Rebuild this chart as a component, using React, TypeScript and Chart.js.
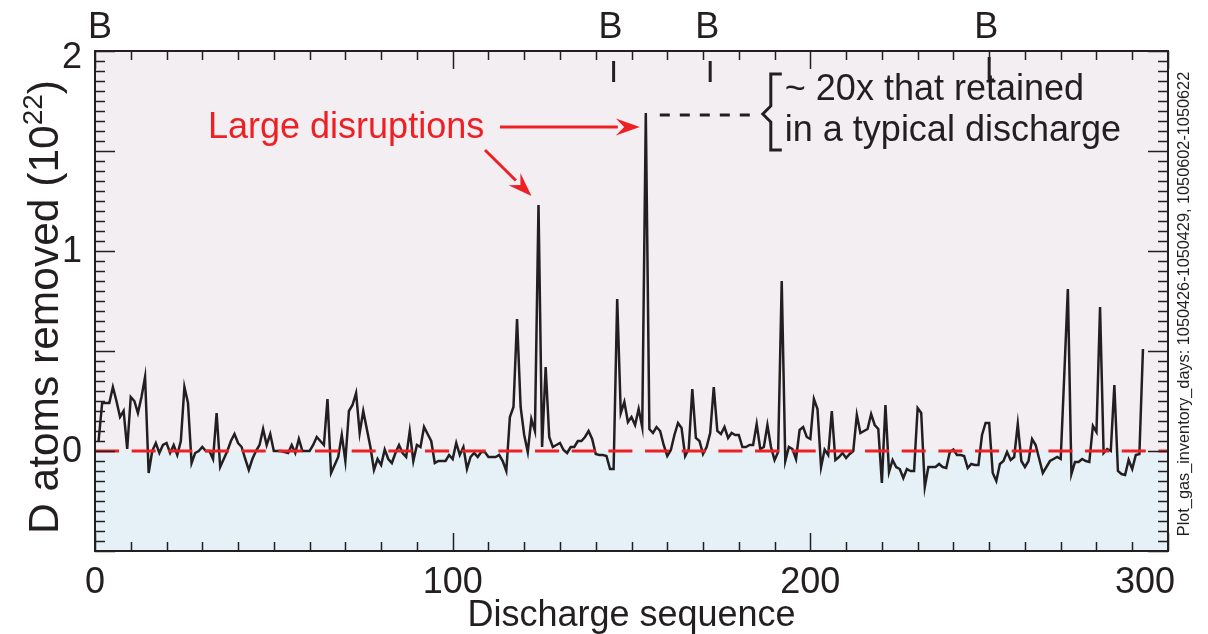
import React, { useEffect, useRef } from "react";
import { Chart, registerables } from "chart.js";

Chart.register(...registerables);

// D atoms removed (10^22) per discharge, discharges 1..293
const removed: number[] = [
  0.05, 0.24, 0.24, 0.24, 0.32, 0.25, 0.17, 0.2, 0.01, 0.27,
  0.25, 0.19, 0.27, 0.37, -0.11, 0.0, 0.04, -0.01, 0.03, 0.04,
  -0.01, 0.03, -0.02, 0.05, 0.32, 0.24, -0.06, -0.01, 0.0, 0.02,
  0.0, 0.0, -0.04, 0.19, -0.08, -0.04, 0.0, 0.05, 0.085, 0.04,
  0.02, -0.04, -0.095, -0.04, 0.0, 0.03, 0.11, 0.03, 0.085, 0.0,
  0.0, 0.0, -0.005, -0.01, 0.03, -0.01, 0.06, 0.0, 0.0, 0.0,
  0.03, 0.07, 0.05, 0.03, 0.26, -0.11, -0.07, -0.03, 0.08, -0.05,
  0.2, 0.23, 0.29, 0.09, 0.2, 0.11, 0.02, -0.095, -0.04, -0.07,
  0.007, -0.04, -0.06, -0.01, 0.03, -0.01, -0.03, 0.1, -0.05, 0.03,
  0.02, 0.12, 0.085, 0.05, -0.06, -0.05, -0.05, -0.05, -0.02, -0.04,
  0.04, -0.02, 0.02, -0.09, -0.03, -0.01, -0.03, -0.005, -0.005, -0.03,
  -0.03, -0.03, -0.02, -0.05, -0.1, 0.17, 0.22, 0.66, 0.22, 0.08,
  -0.005, 0.16, 0.1, 1.23, 0.02, 0.42, 0.07, 0.02, 0.03, 0.04,
  0.005, -0.01, 0.02, 0.02, 0.05, 0.05, 0.07, 0.1, 0.06, -0.015,
  -0.02, -0.02, -0.025, -0.09, -0.09, 0.76, 0.19, 0.245, 0.145, 0.17,
  0.13, 0.21, 0.12, 1.69, 0.11, 0.09, 0.12, 0.1, 0.03, -0.025,
  0.005, 0.08, 0.14, 0.115, -0.025, 0.01, 0.31, 0.065, 0.05, -0.015,
  0.02, 0.09, 0.32, 0.1, 0.085, 0.12, 0.065, 0.09, 0.08, 0.08,
  0.02, 0.02, 0.03, 0.03, 0.135, 0.01, 0.02, 0.13, 0.02, -0.045,
  -0.005, 0.85, -0.05, 0.02, 0.01, -0.04, 0.105, 0.12, 0.07, 0.06,
  0.26, 0.21, -0.08, 0.007, -0.02, 0.2, -0.045, -0.03, -0.01, -0.035,
  -0.015, 0.0, 0.18, 0.09, 0.1, 0.11, 0.185, 0.13, 0.11, -0.16,
  0.23, -0.105, -0.045, -0.08, -0.09, -0.135, -0.09, -0.1, -0.1, 0.215,
  0.19, -0.18, -0.08, -0.08, -0.08, -0.065, -0.08, -0.085, -0.005, 0.007,
  -0.02, -0.02, -0.025, -0.085, -0.065, -0.07, -0.07, 0.08, 0.14, 0.14,
  -0.11, -0.15, -0.065, -0.05, -0.005, -0.045, -0.03, 0.135, -0.05, -0.08,
  -0.05, 0.06, 0.03, -0.04, -0.11, -0.08, -0.05, -0.04, -0.03, -0.04,
  0.38, 0.81, -0.115, -0.055, -0.055, -0.04, -0.05, -0.055, 0.125, 0.095,
  0.72, -0.01, 0.01, 0.0, 0.33, -0.1, -0.115, -0.12, -0.045, -0.09,
  -0.02, -0.015, 0.51,
];
const firstDischarge = 1;

const xTickValues = [0, 100, 200, 300];
const xTickLabels = ["0", "100", "200", "300"];
const yTickValues = [0, 1, 2];
const yTickLabels = ["0", "1", "2"];

const boronizations = [0, 145, 172, 250];
const disruptionPeaks = [124, 154];

const xTitle = "Discharge sequence";
const yTitleMain = "D atoms removed (10";
const yTitleSup = "22";
const yTitleEnd = ")";
const disruptionText = "Large disruptions";
const noteLines = ["~ 20x that retained", "in a typical discharge"];
const sideNote = "Plot_gas_inventory_days: 1050426-1050429, 1050602-1050622";

const FONT = '"Liberation Sans", Arial, Helvetica, sans-serif';
const INK = "#231F20";
const RED = "#ED2024";
const PINK = "#F3EEF2";
const BLUE = "#E6F0F7";

function arrow(ctx: CanvasRenderingContext2D, x1: number, y1: number, x2: number, y2: number) {
  const ang = Math.atan2(y2 - y1, x2 - x1);
  const hl = 24, hw = 8.5;
  const bx = x2 - hl * Math.cos(ang), by = y2 - hl * Math.sin(ang);
  ctx.beginPath();
  ctx.moveTo(x1, y1);
  ctx.lineTo(bx + 2 * Math.cos(ang), by + 2 * Math.sin(ang));
  ctx.stroke();
  ctx.beginPath();
  ctx.moveTo(x2, y2);
  ctx.lineTo(bx + hw * Math.sin(ang), by - hw * Math.cos(ang));
  ctx.lineTo(bx + 0.35 * hl * Math.cos(ang), by + 0.35 * hl * Math.sin(ang));
  ctx.lineTo(bx - hw * Math.sin(ang), by + hw * Math.cos(ang));
  ctx.closePath();
  ctx.fill();
}

const decorPlugin = {
  id: "decor",
  beforeDatasetsDraw(chart: any) {
    const { ctx, chartArea: a, scales } = chart;
    const y0 = scales.y.getPixelForValue(0);
    ctx.save();
    ctx.fillStyle = PINK;
    ctx.fillRect(a.left, a.top, a.right - a.left, y0 - a.top);
    ctx.fillStyle = BLUE;
    ctx.fillRect(a.left, y0, a.right - a.left, a.bottom - y0);
    ctx.restore();
  },
  afterDatasetsDraw(chart: any) {
    const { ctx, chartArea: a, scales } = chart;
    const xs = scales.x, ys = scales.y;
    ctx.save();
    ctx.strokeStyle = INK;
    ctx.fillStyle = INK;

    // ticks
    ctx.lineWidth = 1.5;
    ctx.beginPath();
    for (let k = 0; k <= 50; k++) {
      const v = -0.5 + k * 0.05;
      const p = Math.round(ys.getPixelForValue(v)) + 0.5;
      const major = Math.abs(v * 2 - Math.round(v * 2)) < 1e-6;
      const len = major ? 20 : 10;
      ctx.moveTo(a.left, p); ctx.lineTo(a.left + len, p);
      ctx.moveTo(a.right, p); ctx.lineTo(a.right - len, p);
    }
    for (let v = 0; v <= 300; v += 10) {
      const p = Math.round(xs.getPixelForValue(v)) + 0.5;
      const len = v % 100 === 0 ? 18 : 9;
      ctx.moveTo(p, a.bottom); ctx.lineTo(p, a.bottom - len);
      ctx.moveTo(p, a.top); ctx.lineTo(p, a.top + len);
    }
    ctx.stroke();

    // frame
    ctx.lineWidth = 2;
    ctx.strokeRect(a.left, a.top, a.right - a.left, a.bottom - a.top);

    // tick labels
    ctx.font = `36px ${FONT}`;
    ctx.textBaseline = "alphabetic";
    xTickValues.forEach((v, i) => {
      const p = xs.getPixelForValue(v);
      const w = ctx.measureText(xTickLabels[i]).width;
      let left = p - w / 2;
      if (left + w > a.right + 7) left = a.right + 7 - w;
      ctx.textAlign = "left";
      ctx.fillText(xTickLabels[i], left, a.bottom + 42);
    });
    ctx.textAlign = "right";
    ctx.textBaseline = "middle";
    yTickValues.forEach((v, i) => {
      const p = Math.max(ys.getPixelForValue(v), a.top + 6);
      ctx.fillText(yTickLabels[i], a.left - 13, p + 1);
    });

    // axis titles
    ctx.textAlign = "center";
    ctx.textBaseline = "alphabetic";
    ctx.fillText(xTitle, (a.left + a.right) / 2, a.bottom + 75);

    ctx.save();
    ctx.translate(58, (a.top + a.bottom) / 2 + 6);
    ctx.rotate(-Math.PI / 2);
    ctx.textAlign = "left";
    ctx.font = `42.5px ${FONT}`;
    const w1 = ctx.measureText(yTitleMain).width;
    const w3 = ctx.measureText(yTitleEnd).width;
    ctx.font = `28px ${FONT}`;
    const w2 = ctx.measureText(yTitleSup).width;
    const tot = w1 + w2 + w3;
    let cx = -tot / 2;
    ctx.font = `42.5px ${FONT}`;
    ctx.fillText(yTitleMain, cx, 0);
    cx += w1;
    ctx.font = `28px ${FONT}`;
    ctx.fillText(yTitleSup, cx, -16);
    cx += w2;
    ctx.font = `42.5px ${FONT}`;
    ctx.fillText(yTitleEnd, cx, 0);
    ctx.restore();

    // side note
    ctx.save();
    ctx.translate(a.right + 21, (a.top + a.bottom) / 2 + 3);
    ctx.rotate(-Math.PI / 2);
    ctx.font = `16.3px ${FONT}`;
    ctx.textAlign = "center";
    ctx.textBaseline = "alphabetic";
    ctx.fillText(sideNote, 0, 0);
    ctx.restore();

    // boronization markers
    ctx.font = `36px ${FONT}`;
    ctx.textAlign = "center";
    ctx.textBaseline = "alphabetic";
    ctx.lineWidth = 3;
    boronizations.forEach((b, i) => {
      const p = xs.getPixelForValue(b);
      ctx.fillText("B", Math.max(p - 3, a.left + 5), 38);
      if (b > 0) {
        ctx.beginPath();
        if (i === boronizations.length - 1) {
          ctx.moveTo(p, a.top + 6); ctx.lineTo(p, a.top + 29); ctx.lineTo(p + 5, a.top + 29);
        } else {
          ctx.moveTo(p, a.top + 10); ctx.lineTo(p, a.top + 31);
        }
        ctx.stroke();
      }
    });

    // annotation for the largest disruption
    const big = disruptionPeaks[1];
    const bigVal = removed[big - firstDischarge];
    const bx = xs.getPixelForValue(big);
    const by = ys.getPixelForValue(bigVal);
    ctx.lineWidth = 3;
    ctx.setLineDash([10, 10]);
    ctx.beginPath();
    ctx.moveTo(bx + 14, by + 2);
    ctx.lineTo(bx + 106, by + 2);
    ctx.stroke();
    ctx.setLineDash([]);
    // brace
    ctx.beginPath();
    ctx.moveTo(bx + 136, by - 39);
    ctx.lineTo(bx + 125, by - 39);
    ctx.lineTo(bx + 125, by - 7);
    ctx.lineTo(bx + 117, by + 1);
    ctx.lineTo(bx + 125, by + 9);
    ctx.lineTo(bx + 125, by + 37);
    ctx.lineTo(bx + 136, by + 37);
    ctx.stroke();
    ctx.textAlign = "left";
    ctx.textBaseline = "alphabetic";
    ctx.fillText(noteLines[0], bx + 139, by - 13);
    ctx.fillText(noteLines[1], bx + 139, by + 28);

    // red labels and arrows
    ctx.fillStyle = RED;
    ctx.strokeStyle = RED;
    ctx.lineWidth = 3;
    ctx.textBaseline = "middle";
    ctx.fillText(disruptionText, 208, by + 15);
    arrow(ctx, 500, by + 14, bx - 6, by + 14);
    const mid = disruptionPeaks[0];
    const mx = xs.getPixelForValue(mid);
    const my = ys.getPixelForValue(removed[mid - firstDischarge]);
    arrow(ctx, 485, by + 37, mx - 7, my - 9);

    ctx.restore();
  },
};

export default function App() {
  const ref = useRef<HTMLCanvasElement | null>(null);
  useEffect(() => {
    if (!ref.current) return;
    const points = removed.map((v, i) => ({ x: i + firstDischarge, y: v }));
    const chart = new Chart(ref.current, {
      type: "line",
      data: {
        datasets: [
          {
            data: points,
            borderColor: INK,
            borderWidth: 2.5,
            pointRadius: 0,
            tension: 0,
            order: 1,
          },
          {
            data: [{ x: 0, y: 0 }, { x: 300, y: 0 }],
            borderColor: RED,
            borderWidth: 3,
            borderDash: [24, 12.67],
            pointRadius: 0,
            order: 0,
          },
        ],
      },
      options: {
        responsive: false,
        animation: false,
        layout: { padding: { left: 95, right: 40, top: 51, bottom: 83 } },
        scales: {
          x: { type: "linear", min: 0, max: 300, display: false },
          y: { type: "linear", min: -0.5, max: 2, display: false },
        },
        plugins: { legend: { display: false }, tooltip: { enabled: false } },
      },
      plugins: [decorPlugin],
    });
    return () => chart.destroy();
  }, []);
  return (
    <div style={{ position: "fixed", left: 0, top: 0, width: 1208, height: 634, background: "#fff" }}>
      <canvas ref={ref} width={1208} height={634} style={{ display: "block" }} />
    </div>
  );
}
